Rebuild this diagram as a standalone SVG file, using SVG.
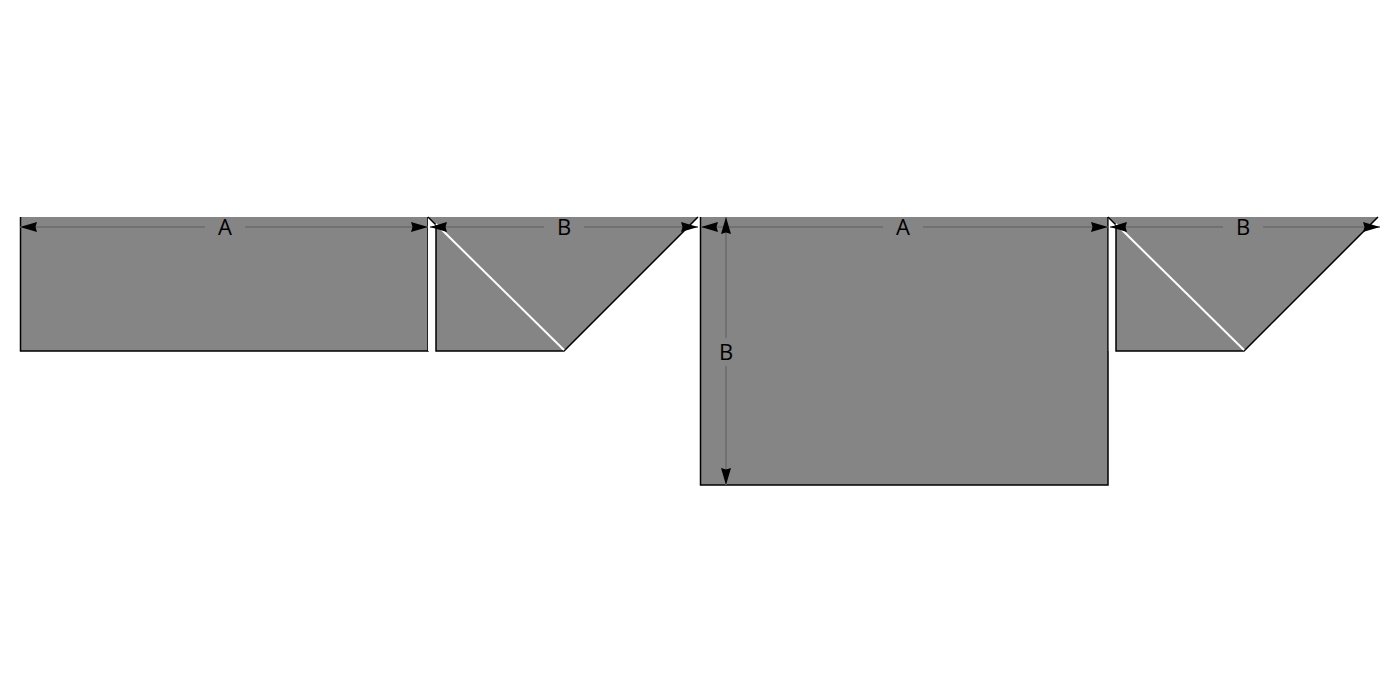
<svg xmlns="http://www.w3.org/2000/svg" width="1400" height="700" viewBox="0 0 1400 700">
<style>
.g{fill:#858585;stroke:none}
.e{fill:none;stroke:#000;stroke-width:1.5}
.w{stroke:#fff;stroke-width:2;fill:none}
.d{stroke:#6b6b6b;stroke-width:1.5;fill:none}
.t{font-family:"Open Sans","DejaVu Sans",sans-serif;font-size:22px;fill:#000;text-anchor:middle}
</style>
<defs>
<marker id="ah" viewBox="0 0 17 10" refX="17" refY="5" markerWidth="17" markerHeight="10" markerUnits="userSpaceOnUse" orient="auto-start-reverse">
<path d="M0,0 L17,5 L0,10 L1.5,5 Z" fill="#000"/>
</marker>
</defs>
<rect width="1400" height="700" fill="#fff"/>
<g id="rectA1">
<rect class="g" x="20" y="217" width="408" height="134"/>
<path class="e" d="M20.5,217 V351 H428 V217"/>
</g>
<g id="strip1">
<rect x="428" y="217" width="8" height="134" fill="#fff"/>
<polygon class="g" points="428,217 436,217 436,225"/>
<path class="e" d="M428,217 L436,225"/>
</g>
<g id="trapB1">
<polygon class="g" points="436,217 698,217 564,351 436,351"/>
<path class="e" d="M436,225 V351 H564 L698,217"/>
<line class="w" x1="436" y1="224" x2="564" y2="350"/>
</g>
<g id="rectA2">
<rect class="g" x="700" y="217" width="408" height="268"/>
<path class="e" d="M700.5,217 V485 H1108 V217"/>
</g>
<g id="strip2">
<rect x="1108.8" y="217" width="7" height="134" fill="#fff"/>
<polygon class="g" points="1108,217 1116,217 1116,225"/>
<path class="e" d="M1108,217 L1116,225"/>
</g>
<g id="trapB2">
<polygon class="g" points="1116,217 1378,217 1244,351 1116,351"/>
<path class="e" d="M1116,225 V351 H1244 L1378,217"/>
<line class="w" x1="1116" y1="224" x2="1244" y2="350"/>
</g>
<g id="dimensions">
<line class="d" x1="20" y1="227" x2="205" y2="227" marker-start="url(#ah)"/>
<line class="d" x1="245" y1="227" x2="428" y2="227" marker-end="url(#ah)"/>
<text class="t" x="225" y="235">A</text>
<line class="d" x1="430" y1="227" x2="544" y2="227" marker-start="url(#ah)"/>
<line class="d" x1="584" y1="227" x2="698" y2="227" marker-end="url(#ah)"/>
<text class="t" x="564" y="235">B</text>
<line class="d" x1="701" y1="227" x2="883" y2="227" marker-start="url(#ah)"/>
<line class="d" x1="923" y1="227" x2="1108" y2="227" marker-end="url(#ah)"/>
<text class="t" x="903" y="235">A</text>
<line class="d" x1="1110" y1="227" x2="1223" y2="227" marker-start="url(#ah)"/>
<line class="d" x1="1263" y1="227" x2="1380" y2="227" marker-end="url(#ah)"/>
<text class="t" x="1243" y="235">B</text>
<line class="d" x1="726" y1="217" x2="726" y2="338" marker-start="url(#ah)"/>
<line class="d" x1="726" y1="366" x2="726" y2="485" marker-end="url(#ah)"/>
<text class="t" x="726" y="360">B</text>
</g>
</svg>
